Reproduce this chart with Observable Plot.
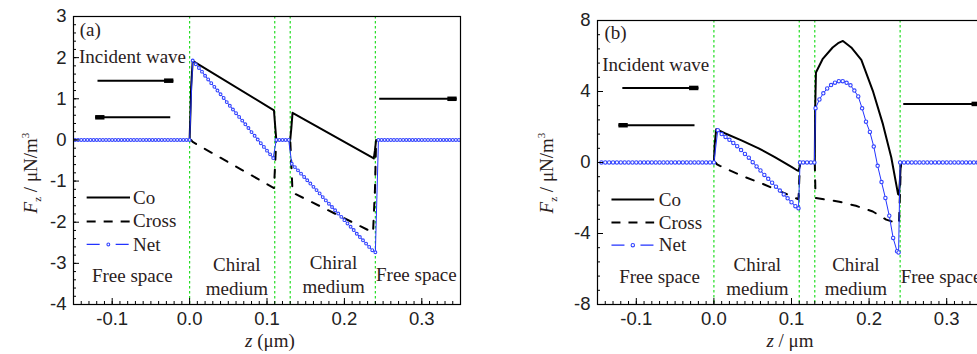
<!DOCTYPE html>
<html><head><meta charset="utf-8">
<script src="https://cdn.jsdelivr.net/npm/d3@7"></script>
<script src="https://cdn.jsdelivr.net/npm/@observablehq/plot@0.6"></script>
<style>
body{margin:0;background:#fff}
#wrap{position:relative;width:977px;height:354px;overflow:hidden;background:#fff}
#wrap svg{position:absolute;top:0}
</style></head><body><div id="wrap"></div>
<script>
// ---------------- data ----------------
const seriesNames = ["Co", "Cross", "Net"];
const boundaries = [0, 0.11, 0.13, 0.24];
const xTicks = [-0.1, 0, 0.1, 0.2, 0.3];
const yTicksA = [-4, -3, -2, -1, 0, 1, 2, 3];
const yTicksB = [-8, -4, 0, 4, 8];

// Panel (a)
const coA_z = [0, 0.001, 0.002, 0.004, 0.109, 0.1105, 0.112, 0.130, 0.1315, 0.133, 0.238, 0.2395, 0.241];
const coA_v = [0, 0.6, 1.3, 1.92, 0.72, 0.35, 0, 0, 0.3, 0.66, -0.45, -0.25, 0];
const crossA_z = [0, 0.002, 0.004, 0.109, 0.1105, 0.112, 0.130, 0.1315, 0.133, 0.237, 0.2395, 0.241];
const crossA_v = [0, 0, -0.05, -1.17, -0.6, 0, 0, -0.6, -1.28, -2.25, -1.2, 0];
const netA_z = [
  -0.148,-0.144,-0.140,-0.136,-0.132,-0.128,-0.124,-0.120,-0.116,-0.112,-0.108,-0.104,-0.100,
  -0.096,-0.092,-0.088,-0.084,-0.080,-0.076,-0.072,-0.068,-0.064,-0.060,-0.056,-0.052,-0.048,
  -0.044,-0.040,-0.036,-0.032,-0.028,-0.024,-0.020,-0.016,-0.012,-0.008,-0.004,0.000,
  0.004,0.008,0.012,0.016,0.020,0.024,0.028,0.032,0.036,0.040,0.044,0.048,0.052,0.056,
  0.060,0.064,0.068,0.072,0.076,0.080,0.084,0.088,0.092,0.096,0.100,0.104,0.108,
  0.112,0.116,0.120,0.124,0.128,
  0.132,0.136,0.140,0.144,0.148,0.152,0.156,0.160,0.164,0.168,0.172,0.176,0.180,0.184,
  0.188,0.192,0.196,0.200,0.204,0.208,0.212,0.216,0.220,0.224,0.228,0.232,0.236,0.240,
  0.244,0.248,0.252,0.256,0.260,0.264,0.268,0.272,0.276,0.280,0.284,0.288,0.292,0.296,
  0.300,0.304,0.308,0.312,0.316,0.320,0.324,0.328,0.332,0.336,0.340,0.344,0.348];
const netA_v = [
  0,0,0,0,0,0,0,0,0,0,0,0,0,
  0,0,0,0,0,0,0,0,0,0,0,0,0,
  0,0,0,0,0,0,0,0,0,0,0,0,
  1.93,1.84,1.75,1.66,1.56,1.47,1.38,1.29,1.20,1.11,1.02,0.92,0.83,0.74,
  0.65,0.56,0.47,0.38,0.29,0.19,0.10,0.01,-0.08,-0.17,-0.26,-0.35,-0.44,
  0,0,0,0,0,
  -0.58,-0.66,-0.74,-0.82,-0.90,-0.98,-1.06,-1.14,-1.22,-1.30,-1.39,-1.47,-1.55,-1.63,
  -1.71,-1.79,-1.87,-1.95,-2.03,-2.11,-2.19,-2.28,-2.36,-2.44,-2.52,-2.60,-2.68,-2.73,
  0,0,0,0,0,0,0,0,0,0,0,0,0,0,
  0,0,0,0,0,0,0,0,0,0,0,0,0];

// Panel (b)
const coB_z = [0, 0.001, 0.003, 0.014, 0.0355, 0.0577, 0.0785, 0.100, 0.1075, 0.109, 0.1105, 0.111,
  0.130, 0.1305, 0.1315, 0.140, 0.153, 0.160, 0.1663, 0.177, 0.190, 0.2048, 0.2178, 0.2286, 0.2373, 0.2385, 0.2400, 0.241];
const coB_v = [0, 1.0, 1.88, 1.65, 1.25, 0.80, 0.30, -0.25, -0.45, -0.47, -0.25, 0,
  0, 3.0, 5.07, 5.82, 6.48, 6.72, 6.85, 6.48, 5.78, 4.04, 2.16, 0.28, -1.78, -1.82, -0.8, 0];
const crossB_z = [0, 0.002, 0.004, 0.0078, 0.036, 0.0617, 0.0836, 0.105, 0.109, 0.110, 0.111,
  0.130, 0.1305, 0.131, 0.1616, 0.183, 0.2048, 0.222, 0.235, 0.2385, 0.240, 0.241];
const crossB_v = [0, 0, -0.1, -0.19, -0.75, -1.18, -1.59, -2.0, -2.07, -1.0, 0,
  0, -1.0, -2.0, -2.21, -2.44, -2.76, -3.22, -3.40, -3.42, -1.5, 0];
const netB_z = [
  -0.145,-0.140,-0.135,-0.130,-0.125,-0.120,-0.115,-0.110,-0.105,-0.100,-0.095,-0.090,-0.085,
  -0.080,-0.075,-0.070,-0.065,-0.060,-0.055,-0.050,-0.045,-0.040,-0.035,-0.030,-0.025,-0.020,
  -0.015,-0.010,-0.005,0.000,
  0.005,0.010,0.015,0.020,0.025,0.030,0.035,0.040,0.045,0.050,0.055,0.060,0.065,0.070,
  0.075,0.080,0.085,0.090,0.095,0.100,0.105,0.109,
  0.111,0.115,0.120,0.125,0.1295,
  0.131,0.136,0.141,0.146,0.151,0.156,0.161,0.166,0.171,0.176,0.181,0.186,0.191,0.196,
  0.201,0.206,0.211,0.216,0.221,0.226,0.231,0.236,0.238,
  0.240,0.245,0.250,0.255,0.260,0.265,0.270,0.275,0.280,0.285,0.290,0.295,0.300,0.305,
  0.310,0.315,0.320,0.325,0.330,0.335,0.340,0.345,0.350];
const netB_v = [
  0,0,0,0,0,0,0,0,0,0,0,0,0,
  0,0,0,0,0,0,0,0,0,0,0,0,0,
  0,0,0,0,
  1.82,1.60,1.44,1.28,1.10,0.92,0.70,0.48,0.27,0.02,-0.22,-0.45,-0.70,-0.92,
  -1.14,-1.36,-1.58,-1.80,-2.02,-2.24,-2.46,-2.58,
  0,0,0,0,0,
  3.06,3.55,3.90,4.17,4.36,4.50,4.58,4.58,4.49,4.35,4.05,3.72,3.05,2.30,
  1.72,0.90,-0.19,-1.10,-2.00,-3.00,-4.25,-5.00,-5.07,
  0,0,0,0,0,0,0,0,0,0,0,0,0,0,
  0,0,0,0,0,0,0,0,0];

// ---------------- annotations (data units) ----------------
const arrowsA = [
  {x1: -0.119, x2: -0.021, y: 1.44, head: "end"},
  {x1: -0.122, x2: -0.025, y: 0.55, head: "start"},
  {x1: 0.245, x2: 0.345, y: 1.0, head: "end"}];
const arrowsB = [
  {x1: -0.118, x2: -0.020, y: 4.2, head: "end"},
  {x1: -0.123, x2: -0.025, y: 2.1, head: "start"},
  {x1: 0.244, x2: 0.344, y: 3.3, head: "end"}];
const labelsA = [
  {z: -0.142, y: 2.71, text: "(a)", a: "start"},
  {z: -0.143, y: 2.05, text: "Incident wave", a: "start"},
  {z: -0.074, y: -3.26, text: "Free space", a: "middle"},
  {z: 0.061, y: -3.30, text: "Chiral\nmedium", a: "middle"},
  {z: 0.186, y: -3.24, text: "Chiral\nmedium", a: "middle"},
  {z: 0.293, y: -3.25, text: "Free space", a: "middle"}];
const labelsB = [
  {z: -0.141, y: 7.42, text: "(b)", a: "start"},
  {z: -0.144, y: 5.59, text: "Incident wave", a: "start"},
  {z: -0.070, y: -6.38, text: "Free space", a: "middle"},
  {z: 0.056, y: -6.35, text: "Chiral\nmedium", a: "middle"},
  {z: 0.183, y: -6.33, text: "Chiral\nmedium", a: "middle"},
  {z: 0.2407, y: -6.38, text: "Free space", a: "start"}];
const legendA = {z1: -0.133, z2: -0.077, zt: -0.073, rows: [-1.40, -1.98, -2.54]};
const legendB = {z1: -0.132, z2: -0.077, zt: -0.071, rows: [-2.08, -3.38, -4.66]};

// ---------------- drawing ----------------
const HEAD = 0.012;
const SERIF = "'Liberation Serif', 'Times New Roman', serif";
const TXT = "#2a211c";
const FS = 19;
const zip = (zs, vs) => zs.map((z, i) => ({z, v: vs[i]}));

function panel(cfg) {
  const co = zip(cfg.coZ, cfg.coV), cross = zip(cfg.crossZ, cfg.crossV), net = zip(cfg.netZ, cfg.netV);
  const heads = cfg.arrows.map(a => a.head === "end" ? {x1: a.x2 - HEAD, x2: a.x2, y: a.y} : {x1: a.x1, x2: a.x1 + HEAD, y: a.y});
  const L = cfg.legend;
  const leg = seriesNames.map((name, i) => ({name, y: L.rows[i], z1: L.z1, z2: L.z2, zt: L.zt, zm: (L.z1 + L.z2) / 2}));
  const fw = cfg.width - cfg.ml - cfg.mr, fh = 354 - cfg.mt - 50;
  const textOpts = {x: "z", y: "y", text: "text", lineHeight: 1.27, fontFamily: SERIF, fontSize: FS, fill: TXT};
  const xMinor = d3.range(-0.14, 0.351, 0.01);
  const svg = Plot.plot({
    width: cfg.width, height: 354,
    marginTop: cfg.mt, marginBottom: 50, marginLeft: cfg.ml, marginRight: cfg.mr,
    style: {fontFamily: "'Liberation Sans', Arial, sans-serif", fontSize: "18.5px", color: "#222", background: "transparent", overflow: "visible"},
    x: {domain: [-0.15, 0.35], axis: null},
    y: {domain: cfg.yDomain, axis: null},
    marks: [
      Plot.ruleX(boundaries, {stroke: "#22dd22", strokeWidth: 1.2, strokeDasharray: "2.5,2.5"}),
      Plot.link(cfg.arrows, {x1: "x1", x2: "x2", y1: "y", y2: "y", stroke: "black", strokeWidth: 2}),
      Plot.link(heads, {x1: "x1", x2: "x2", y1: "y", y2: "y", stroke: "black", strokeWidth: 4.5}),
      Plot.line(cross, {x: "z", y: "v", stroke: "black", strokeWidth: 2, strokeDasharray: "8,10"}),
      Plot.line(co, {x: "z", y: "v", stroke: "black", strokeWidth: 2}),
      Plot.line(net, {x: "z", y: "v", stroke: "#2233ff", strokeWidth: 1}),
      Plot.dot(net, {x: "z", y: "v", r: cfg.r, stroke: "#3344ff", fill: "white", strokeWidth: 1.1}),
      // legend
      Plot.link(leg.filter(d => d.name === "Co"), {x1: "z1", x2: "z2", y1: "y", y2: "y", stroke: "black", strokeWidth: 2}),
      Plot.link(leg.filter(d => d.name === "Cross"), {x1: "z1", x2: "z2", y1: "y", y2: "y", stroke: "black", strokeWidth: 2, strokeDasharray: "9,8"}),
      Plot.link(leg.filter(d => d.name === "Net"), {x1: "z1", x2: "z2", y1: "y", y2: "y", stroke: "#2233ff", strokeWidth: 1.2, strokeDasharray: "13,16,13"}),
      Plot.dot(leg.filter(d => d.name === "Net"), {x: "zm", y: "y", r: cfg.r, stroke: "#3344ff", fill: "white", strokeWidth: 1.1}),
      Plot.text(leg, {x: "zt", y: "y", text: "name", textAnchor: "start", fontFamily: SERIF, fontSize: FS, fill: TXT}),
      // annotations
      Plot.text(cfg.labels.filter(d => d.a === "start"), {...textOpts, textAnchor: "start"}),
      Plot.text(cfg.labels.filter(d => d.a === "middle"), {...textOpts, textAnchor: "middle"}),
      Plot.frame({stroke: "black", strokeWidth: 1.2}),
      // inward ticks
      Plot.tickX(xMinor, {x: d => d, stroke: "black", insetTop: fh - 3}),
      Plot.tickX(xTicks, {x: d => d, stroke: "black", insetTop: fh - 6}),
      Plot.tickY(cfg.yMinor, {y: d => d, stroke: "black", insetRight: fw - 3}),
      Plot.tickY(cfg.yTicks, {y: d => d, stroke: "black", insetRight: fw - 6}),
      // tick labels
      Plot.axisX({ticks: xTicks, tickSize: 0, tickPadding: 7, tickFormat: d => d.toFixed(1), label: null}),
      Plot.axisY({ticks: cfg.yTicks, tickSize: 0, tickPadding: 7, tickFormat: d => String(d), label: null})
    ]
  });
  const s = d3.select(svg);
  // y-axis title
  const yt = s.append("text").attr("transform", `translate(${cfg.ylx},173) rotate(-90)`)
    .attr("text-anchor", "middle").attr("font-family", SERIF).attr("font-size", FS).attr("fill", TXT);
  yt.append("tspan").attr("font-style", "italic").text("F");
  yt.append("tspan").attr("font-size", 11).attr("dy", 4).text("z");
  yt.append("tspan").attr("dy", -4).text(" / \u03bcN/m");
  yt.append("tspan").attr("font-size", 11).attr("dy", -8).text("3");
  // x-axis title
  const xt = s.append("text").attr("x", cfg.xlx).attr("y", 347)
    .attr("text-anchor", "middle").attr("font-family", SERIF).attr("font-size", FS).attr("fill", TXT);
  xt.append("tspan").attr("font-style", "italic").text("z");
  xt.append("tspan").text(cfg.xUnit);
  return svg;
}

const wrap = document.getElementById("wrap");
const svgA = panel({
  width: 470, mt: 16, ml: 73, mr: 10, yDomain: [-4, 3], yTicks: yTicksA, yMinor: d3.range(-4, 3.01, 0.2),
  coZ: coA_z, coV: coA_v, crossZ: crossA_z, crossV: crossA_v, netZ: netA_z, netV: netA_v, r: 1.4,
  arrows: arrowsA, labels: labelsA, legend: legendA, ylx: 37, xlx: 270, xUnit: " (\u03bcm)"
});
svgA.style.left = "0px";
wrap.appendChild(svgA);
const svgB = panel({
  width: 500, mt: 20, ml: 97, mr: 15, yDomain: [-8, 8], yTicks: yTicksB, yMinor: d3.range(-8, 8.01, 0.8),
  coZ: coB_z, coV: coB_v, crossZ: crossB_z, crossV: crossB_v, netZ: netB_z, netV: netB_v, r: 1.7,
  arrows: arrowsB, labels: labelsB, legend: legendB, ylx: 53, xlx: 290, xUnit: " / \u03bcm"
});
svgB.style.left = "500px";
wrap.appendChild(svgB);
</script></body></html>
